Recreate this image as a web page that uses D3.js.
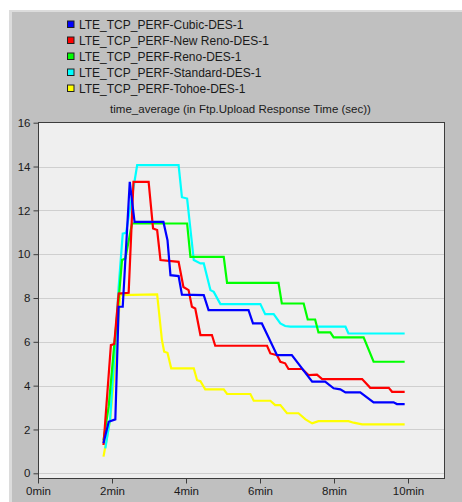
<!DOCTYPE html>
<html>
<head>
<meta charset="utf-8">
<script src="https://cdn.jsdelivr.net/npm/d3@7"></script>
<style>
  html, body { margin: 0; padding: 0; background: #ffffff; }
  svg { display: block; font-family: "Liberation Sans", Arial, sans-serif; }
</style>
</head>
<body>
<svg id="chart" width="462" height="502"></svg>
<script>
// ---- Data (time in minutes, value in seconds) ----
const seriesNames = [
  "LTE_TCP_PERF-Cubic-DES-1",
  "LTE_TCP_PERF-New Reno-DES-1",
  "LTE_TCP_PERF-Reno-DES-1",
  "LTE_TCP_PERF-Standard-DES-1",
  "LTE_TCP_PERF-Tohoe-DES-1"
];
const seriesColors = ["#0000ff", "#ff0000", "#00ff00", "#00ffff", "#ffff00"];

const cubicT = [1.77, 1.91, 2.09, 2.18, 2.29, 2.48, 2.61, 3.39, 3.50, 3.58, 3.80, 3.89, 4.48, 4.61, 5.69, 5.81, 6.05, 6.46, 6.86, 7.41, 7.76, 7.99, 8.17, 8.31, 8.71, 9.07, 9.61, 9.70, 9.91];
const cubicV = [1.37, 2.35, 2.46, 7.6, 7.6, 13.3, 11.47, 11.47, 10.64, 9.04, 9.0, 8.15, 8.13, 7.45, 7.45, 6.84, 6.84, 5.39, 5.39, 4.18, 4.18, 3.88, 3.83, 3.69, 3.69, 3.24, 3.24, 3.16, 3.16];

const newRenoT = [1.77, 1.97, 2.06, 2.18, 2.45, 2.58, 2.99, 3.11, 3.22, 3.31, 3.80, 3.93, 4.07, 4.16, 4.25, 4.39, 4.70, 4.79, 6.19, 6.28, 6.46, 6.55, 6.68, 6.77, 7.14, 7.31, 7.54, 7.68, 8.76, 8.98, 9.48, 9.57, 9.91];
const newRenoV = [1.29, 5.85, 5.9, 8.2, 8.24, 13.3, 13.3, 11.17, 11.1, 9.73, 9.65, 8.5, 8.36, 7.6, 7.52, 6.31, 6.31, 5.82, 5.82, 5.47, 5.39, 5.09, 5.02, 4.76, 4.76, 4.48, 4.5, 4.3, 4.3, 3.9, 3.9, 3.72, 3.72];

const renoT = [1.77, 1.91, 2.04, 2.18, 2.27, 2.36, 2.54, 4.03, 4.12, 5.02, 5.11, 6.50, 6.59, 7.18, 7.29, 7.49, 7.58, 7.90, 7.99, 8.80, 9.07, 9.91];
const renoV = [1.5, 3.04, 5.47, 7.9, 9.73, 9.8, 11.4, 11.4, 9.88, 9.88, 8.69, 8.69, 7.75, 7.75, 7.02, 7.02, 6.43, 6.43, 6.2, 6.2, 5.09, 5.09];

const standardT = [1.82, 1.95, 2.09, 2.18, 2.29, 2.38, 2.68, 3.80, 3.89, 4.03, 4.21, 4.39, 4.48, 4.66, 4.75, 4.93, 6.01, 6.14, 6.37, 6.55, 6.68, 6.82, 8.31, 8.39, 9.91];
const standardV = [1.14, 2.5, 6.0, 8.5, 10.94, 10.97, 14.06, 14.06, 12.6, 12.54, 9.73, 9.58, 9.58, 8.36, 8.28, 7.72, 7.72, 7.26, 7.26, 6.84, 6.72, 6.69, 6.69, 6.38, 6.38];

const tohoeT = [1.77, 1.95, 2.09, 2.22, 3.22, 3.35, 3.41, 3.50, 3.60, 4.21, 4.30, 4.39, 4.52, 5.02, 5.11, 5.74, 5.83, 6.28, 6.41, 6.55, 6.73, 7.04, 7.23, 7.41, 7.58, 8.39, 8.53, 8.76, 9.91];
const tohoeV = [0.76, 2.43, 5.0, 8.13, 8.17, 6.08, 5.55, 5.5, 4.79, 4.79, 4.25, 4.2, 3.83, 3.83, 3.62, 3.62, 3.31, 3.31, 3.11, 3.11, 2.74, 2.74, 2.46, 2.28, 2.38, 2.38, 2.31, 2.23, 2.23];

const yTicks = [0, 2, 4, 6, 8, 10, 12, 14, 16];
const xTicks = [0, 2, 4, 6, 8, 10];
const xTickLabels = ["0min", "2min", "4min", "6min", "8min", "10min"];
const title = "time_average (in Ftp.Upload Response Time (sec))";

const seriesT = [cubicT, newRenoT, renoT, standardT, tohoeT];
const seriesV = [cubicV, newRenoV, renoV, standardV, tohoeV];

// ---- Drawing ----
const svg = d3.select("#chart");
const W = 462, H = 502;

// outer gray panel
svg.append("rect").attr("x", 0).attr("y", 0).attr("width", W).attr("height", H).attr("fill", "#ffffff");
svg.append("rect").attr("x", 9).attr("y", 10).attr("width", W - 9).attr("height", H - 10).attr("fill", "#dcdcdc");
svg.append("rect").attr("x", 12).attr("y", 12).attr("width", W - 12).attr("height", H - 12).attr("fill", "#c0c0c0");

const plot = { left: 38, right: 445, top: 122, bottom: 479 };

const x = d3.scaleLinear().domain([0, 11]).range([plot.left, plot.right]);
const y = d3.scaleLinear().domain([-0.26, 16]).range([plot.bottom, 122.7]);

// plot background
svg.append("rect")
  .attr("x", plot.left).attr("y", plot.top)
  .attr("width", plot.right - plot.left).attr("height", plot.bottom - plot.top)
  .attr("fill", "#efefef");

// gridlines
svg.append("g").selectAll("line").data(yTicks.filter(d => d < 16)).join("line")
  .attr("x1", plot.left).attr("x2", plot.right)
  .attr("y1", d => Math.round(y(d)) + 0.5).attr("y2", d => Math.round(y(d)) + 0.5)
  .attr("stroke", "#cfcfcf").attr("stroke-width", 1);

// lines (draw in reverse so Cubic ends on top)
const line = d3.line().x(d => x(d[0])).y(d => y(d[1]));
const order = [4, 3, 2, 1, 0];
const linesG = svg.append("g");
order.forEach(i => {
  const pts = seriesT[i].map((t, j) => [t, seriesV[i][j]]);
  linesG.append("path")
    .datum(pts)
    .attr("d", line)
    .attr("fill", "none")
    .attr("stroke", seriesColors[i])
    .attr("stroke-width", 2.2)
    .attr("stroke-linejoin", "miter");
});

// frame
svg.append("rect")
  .attr("x", plot.left + 0.5).attr("y", plot.top + 0.5)
  .attr("width", plot.right - plot.left - 1).attr("height", plot.bottom - plot.top - 1)
  .attr("fill", "none").attr("stroke", "#3c3c3c").attr("stroke-width", 1);

// y axis
const yAxis = d3.axisLeft(y).tickValues(yTicks).tickSize(5).tickPadding(3).tickFormat(d3.format("d"));
const yg = svg.append("g").attr("transform", `translate(${plot.left + 0.5},0)`).call(yAxis);
yg.select(".domain").remove();
yg.selectAll("line").attr("stroke", "#3c3c3c");
yg.selectAll("text").attr("fill", "#1a1a1a").style("font-size", "11.5px").style("font-family", "Liberation Sans, Arial, sans-serif");

// x axis
const xAxis = d3.axisBottom(x).tickValues(xTicks).tickSize(5).tickPadding(3).tickFormat((d, i) => xTickLabels[i]);
const xg = svg.append("g").attr("transform", `translate(0,${plot.bottom - 0.5})`).call(xAxis);
xg.select(".domain").remove();
xg.selectAll("line").attr("stroke", "#3c3c3c");
xg.selectAll("text").attr("fill", "#1a1a1a").style("font-size", "11.5px").style("font-family", "Liberation Sans, Arial, sans-serif");

// title
svg.append("text")
  .attr("x", 240.5).attr("y", 113)
  .attr("text-anchor", "middle")
  .attr("fill", "#1a1a1a")
  .style("font-size", "11.5px")
  .text(title);

// legend
const lg = svg.append("g");
seriesNames.forEach((name, i) => {
  const yy = 24.5 + i * 16;
  lg.append("rect")
    .attr("x", 67.5).attr("y", yy - 3.5)
    .attr("width", 6.5).attr("height", 6.5)
    .attr("fill", seriesColors[i])
    .attr("stroke", "#202020").attr("stroke-width", 1);
  lg.append("text")
    .attr("x", 79).attr("y", yy + 4.5)
    .attr("fill", "#1a1a1a")
    .style("font-size", "12px")
    .text(name);
});
</script>
</body>
</html>
